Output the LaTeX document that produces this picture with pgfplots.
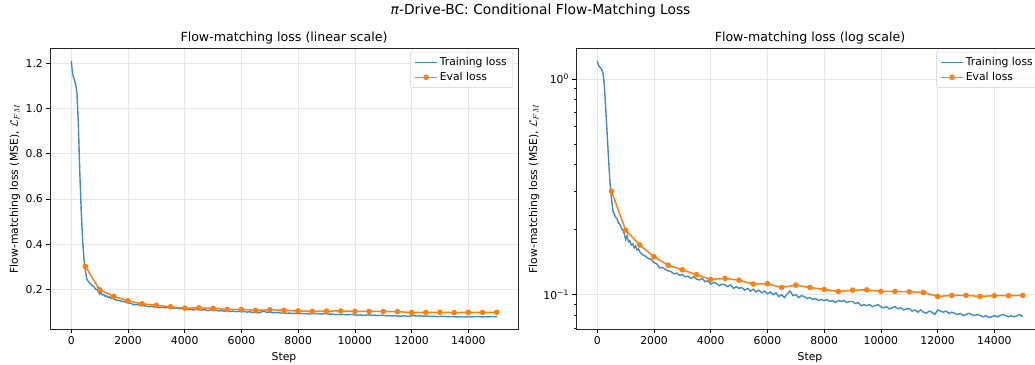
\documentclass[border=0pt]{standalone}
\usepackage{pgfplots}
\pgfplotsset{compat=1.18}
\usepackage{pgfplotstable}
\usepackage{fontspec}
\setmainfont{DejaVu Sans}
\definecolor{tabblue}{HTML}{1F77B4}
\definecolor{taborange}{HTML}{FF7F0E}
\definecolor{gridgray}{HTML}{E6E6E6}

\pgfplotstableread{
step loss
0 1.21
50 1.15
100 1.13
150 1.11
200 1.07
250 0.93
300 0.72
350 0.55
400 0.42
450 0.33
500 0.28
550 0.245
600 0.236
650 0.228
700 0.224
750 0.215
800 0.212
850 0.203
900 0.199
950 0.192
1000 0.180
1050 0.188
1100 0.176
1150 0.178
1200 0.170
1250 0.172
1300 0.165
1350 0.168
1400 0.161
1450 0.163
1500 0.158
1600 0.153
1700 0.151
1800 0.147
1900 0.146
2000 0.141
2100 0.139
2200 0.133
2300 0.134
2400 0.131
2500 0.129
2600 0.128
2700 0.125
2800 0.126
2900 0.123
3000 0.124
3100 0.121
3200 0.122
3300 0.119
3400 0.121
3500 0.118
3600 0.117
3700 0.119
3800 0.115
3900 0.116
4000 0.112
4100 0.114
4200 0.113
4300 0.110
4400 0.112
4500 0.111
4600 0.109
4700 0.111
4800 0.107
4900 0.109
5000 0.107
5100 0.108
5200 0.105
5300 0.107
5400 0.104
5500 0.106
5600 0.103
5700 0.105
5800 0.102
5900 0.104
6000 0.101
6100 0.103
6200 0.100
6300 0.102
6400 0.098
6500 0.100
6600 0.097
6700 0.101
6800 0.104
6900 0.099
7000 0.100
7100 0.097
7200 0.099
7300 0.098
7400 0.096
7500 0.097
7600 0.095
7700 0.096
7800 0.094
7900 0.095
8000 0.094
8100 0.095
8200 0.093
8300 0.094
8400 0.092
8500 0.094
8600 0.093
8700 0.094
8800 0.092
8900 0.093
9000 0.093
9100 0.091
9200 0.092
9300 0.089
9400 0.090
9500 0.089
9600 0.090
9700 0.088
9800 0.089
9900 0.090
10000 0.088
10100 0.087
10200 0.088
10300 0.086
10400 0.087
10500 0.088
10600 0.086
10700 0.087
10800 0.085
10900 0.086
11000 0.086
11100 0.084
11200 0.085
11300 0.083
11400 0.085
11500 0.083
11600 0.082
11700 0.084
11800 0.083
11900 0.081
12000 0.085
12100 0.084
12200 0.083
12300 0.084
12400 0.082
12500 0.083
12600 0.082
12700 0.081
12800 0.082
12900 0.080
13000 0.081
13100 0.082
13200 0.081
13300 0.080
13400 0.081
13500 0.080
13600 0.079
13700 0.080
13800 0.0785
13900 0.079
14000 0.080
14100 0.079
14200 0.080
14300 0.081
14400 0.080
14500 0.079
14600 0.080
14700 0.079
14800 0.080
14900 0.081
15000 0.079
}\traindata

\pgfplotstableread{
step loss
500 0.302
1000 0.199
1500 0.170
2000 0.150
2500 0.137
3000 0.1305
3500 0.1238
4000 0.1177
4500 0.119
5000 0.1168
5500 0.112
6000 0.1124
6500 0.108
7000 0.1108
7500 0.108
8000 0.1058
8500 0.1036
9000 0.1050
9500 0.1053
10000 0.1036
10500 0.1036
11000 0.1032
11500 0.1025
12000 0.0982
12500 0.0993
13000 0.0993
13500 0.0982
14000 0.0990
14500 0.0990
15000 0.0993
}\evaldata

\pgfplotsset{
  legend image code/.code={%
    \draw[mark repeat=2,mark phase=2,#1] plot coordinates {(0pt,0pt) (11pt,0pt) (22pt,0pt)};%
  },
}

\pgfplotsset{
  mystyle/.style={
    scale only axis,
    width=468pt, height=281.5pt,
    anchor=south west,
    xmin=-750, xmax=15750,
    xtick={0,2000,...,14000},
    scaled x ticks=false,
    xtick pos=bottom, ytick pos=left,
    tick align=outside,
    major tick length=3.6pt,
    minor tick length=2pt,
    tick style={black, line width=0.6pt},
    axis line style={black!85, line width=0.6pt},
    grid=major,
    major grid style={gridgray, line width=0.6pt},
    /pgf/number format/assume math mode=true,
    /pgf/number format/set thousands separator={},
    tick label style={font=\fontsize{10.8}{13}\selectfont},
    label style={font=\fontsize{10.8}{13}\selectfont},
    title style={font=\fontsize{12.6}{15}\selectfont, at={(0.5,1)}, anchor=base, yshift=1pt},
    xlabel={Step},
    xlabel style={at={(axis description cs:0.5,0)}, anchor=base, yshift=-30.5pt},
    legend style={
      at={(1,1)}, anchor=north east, xshift=-5pt, yshift=-4pt,
      draw=black!18, rounded corners=2pt, fill=white, fill opacity=0.8, text opacity=1,
      font=\fontsize{10.8}{13}\selectfont,
      inner xsep=4pt, inner ysep=3.5pt, row sep=1pt,
      cells={anchor=west},
    },
  },
  trainstyle/.style={color=tabblue!85!white, line width=1.4pt, no marks},
  evalstyle/.style={taborange, line width=1.5pt, mark=*, mark size=2pt, mark options={fill=taborange, draw=taborange}},
}

\begin{document}
\begin{tikzpicture}
\begin{axis}[mystyle,
  at={(50pt,-329.5pt)},
  ymin=0.0234, ymax=1.267,
  ytick={0.2,0.4,...,1.2},
  yticklabel style={/pgf/number format/fixed, /pgf/number format/fixed zerofill, /pgf/number format/precision=1},
  title={Flow-matching loss (linear scale)},
  ylabel={Flow-matching loss (MSE), $\mathcal{L}_{FM}$},
  ylabel style={at={(axis description cs:-0.0748,0.5)}, anchor=center},
]
\addplot[trainstyle] table[x=step,y=loss] {\traindata};
\addlegendentry{Training loss}
\addplot[evalstyle] table[x=step,y=loss] {\evaldata};
\addlegendentry{Eval loss}
\end{axis}

\begin{axis}[mystyle,
  at={(576pt,-329.5pt)},
  ymode=log,
  ymin=0.069, ymax=1.39,
  ytick={0.1,1},
  yticklabels={10\textsuperscript{−1},10\textsuperscript{0}},
  minor ytick={0.07,0.08,0.09,0.2,0.3,0.4,0.5,0.6,0.7,0.8,0.9},
  title={Flow-matching loss (log scale)},
  ylabel={Flow-matching loss (MSE), $\mathcal{L}_{FM}$},
  ylabel style={at={(axis description cs:-0.0897,0.5)}, anchor=center},
]
\addplot[trainstyle] table[x=step,y=loss] {\traindata};
\addlegendentry{Training loss}
\addplot[evalstyle] table[x=step,y=loss] {\evaldata};
\addlegendentry{Eval loss}
\end{axis}

\node[anchor=base, font=\fontsize{13.8}{16}\selectfont] at (540.5pt,-14pt) {\textit{π}-Drive-BC: Conditional Flow-Matching Loss};

\pgfresetboundingbox
\path[use as bounding box] (0pt,0pt) rectangle (1035pt,-364pt);
\end{tikzpicture}
\end{document}
